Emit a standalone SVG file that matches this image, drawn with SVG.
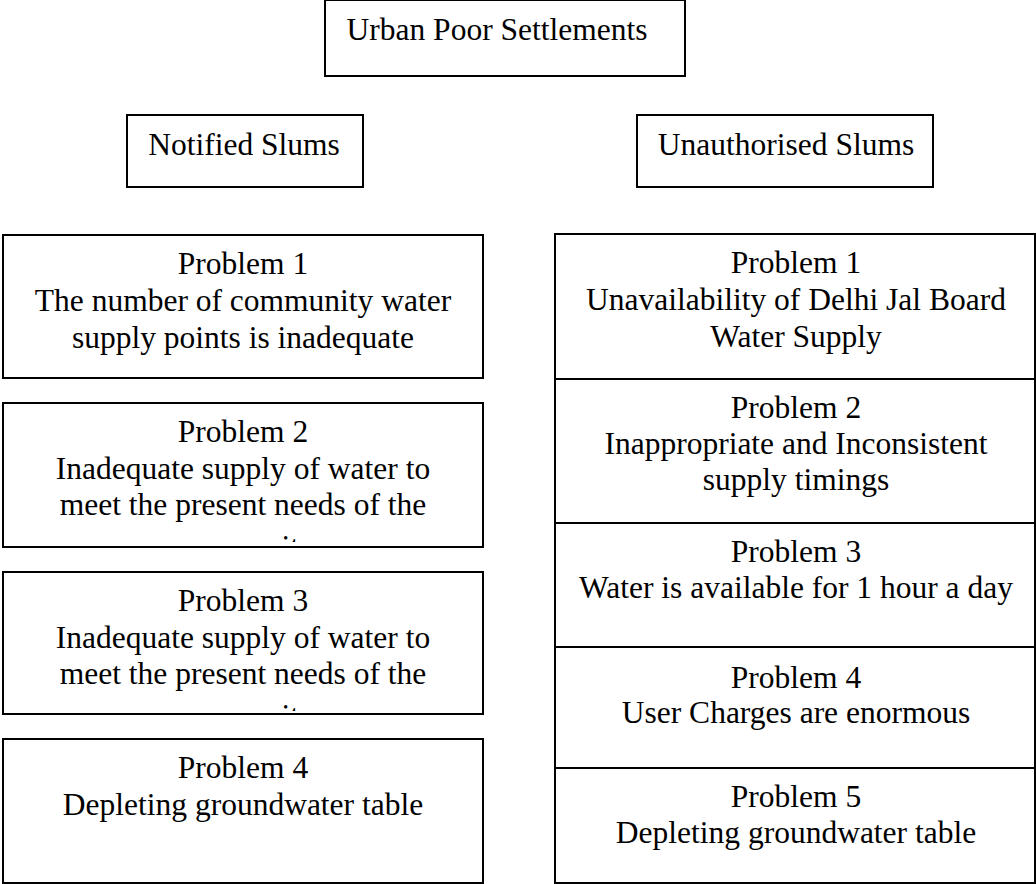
<svg xmlns="http://www.w3.org/2000/svg" width="1036" height="884" viewBox="0 0 1036 884">
<style>
.box{fill:#fff;stroke:#000;stroke-width:2}
.t{font-family:"Liberation Serif","Times New Roman",serif;font-size:31.5px;fill:#000;text-anchor:middle}
</style>
<defs>
<clipPath id="clipL2"><rect x="4" y="404" width="478" height="138"/></clipPath>
<clipPath id="clipL3"><rect x="4" y="573" width="478" height="138"/></clipPath>
</defs>
<rect width="1036" height="884" fill="#fff"/>
<g id="connectors"></g>
<g id="urban">
<rect class="box" x="325" y="0" width="360" height="76"/>
<text class="t" x="497" y="40">Urban Poor Settlements</text>
</g>
<g id="notified">
<rect class="box" x="127" y="115" width="236" height="72"/>
<text class="t" x="244" y="155">Notified Slums</text>
</g>
<g id="unauthorised">
<rect class="box" x="637" y="115" width="296" height="72"/>
<text class="t" x="786" y="155">Unauthorised Slums</text>
</g>
<g id="n-problem1">
<rect class="box" x="3" y="235" width="480" height="143"/>
<text class="t" x="243" y="274">Problem 1</text>
<text class="t" x="243" y="311">The number of community water</text>
<text class="t" x="243" y="348">supply points is inadequate</text>
</g>
<g id="n-problem2">
<rect class="box" x="3" y="403" width="480" height="144"/>
<text class="t" x="243" y="442">Problem 2</text>
<text class="t" x="243" y="479">Inadequate supply of water to</text>
<text class="t" x="243" y="515">meet the present needs of the</text>
<text class="t" x="243" y="557" clip-path="url(#clipL2)">community</text>
</g>
<g id="n-problem3">
<rect class="box" x="3" y="572" width="480" height="142"/>
<text class="t" x="243" y="611">Problem 3</text>
<text class="t" x="243" y="648">Inadequate supply of water to</text>
<text class="t" x="243" y="684">meet the present needs of the</text>
<text class="t" x="243" y="726" clip-path="url(#clipL3)">community</text>
</g>
<g id="n-problem4">
<rect class="box" x="3" y="739" width="480" height="144"/>
<text class="t" x="243" y="778">Problem 4</text>
<text class="t" x="243" y="815">Depleting groundwater table</text>
</g>
<g id="u-problem1">
<rect class="box" x="555" y="234" width="480" height="145"/>
<text class="t" x="796" y="273">Problem 1</text>
<text class="t" x="796" y="310">Unavailability of Delhi Jal Board</text>
<text class="t" x="796" y="347">Water Supply</text>
</g>
<g id="u-problem2">
<rect class="box" x="555" y="379" width="480" height="144"/>
<text class="t" x="796" y="418">Problem 2</text>
<text class="t" x="796" y="454">Inappropriate and Inconsistent</text>
<text class="t" x="796" y="490">supply timings</text>
</g>
<g id="u-problem3">
<rect class="box" x="555" y="523" width="480" height="124"/>
<text class="t" x="796" y="562">Problem 3</text>
<text class="t" x="796" y="598">Water is available for 1 hour a day</text>
</g>
<g id="u-problem4">
<rect class="box" x="555" y="647" width="480" height="121"/>
<text class="t" x="796" y="688">Problem 4</text>
<text class="t" x="796" y="723">User Charges are enormous</text>
</g>
<g id="u-problem5">
<rect class="box" x="555" y="768" width="480" height="115"/>
<text class="t" x="796" y="807">Problem 5</text>
<text class="t" x="796" y="843">Depleting groundwater table</text>
</g>
</svg>
